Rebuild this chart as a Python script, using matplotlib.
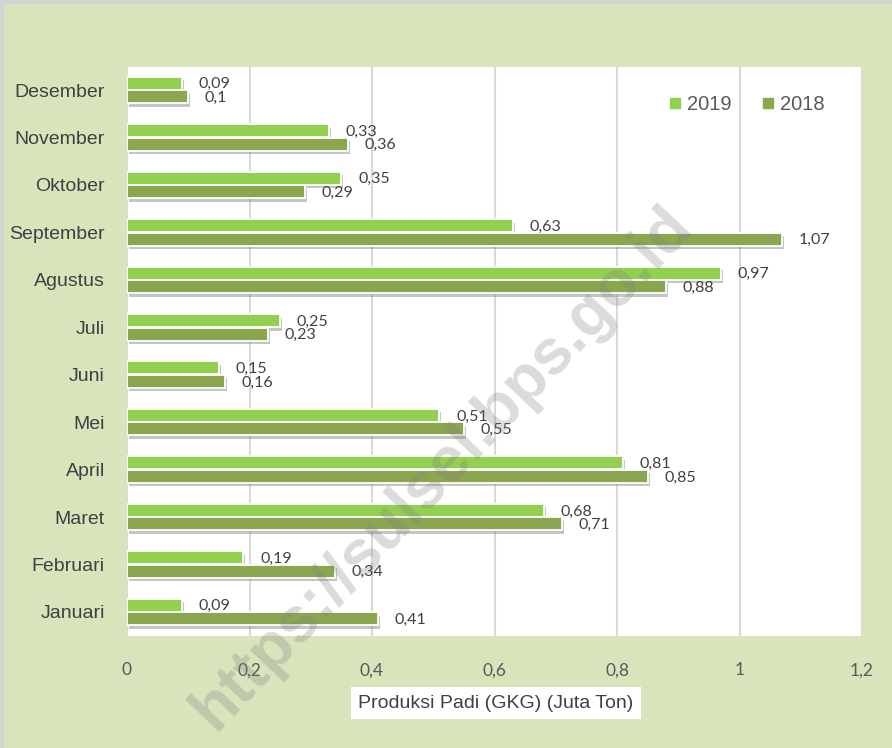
import matplotlib.pyplot as plt
import matplotlib.patheffects as pe
from matplotlib import font_manager
from matplotlib.lines import Line2D
from matplotlib.patches import Rectangle
import numpy as np

# Produksi padi per bulan (juta ton GKG)
months = ["Januari", "Februari", "Maret", "April", "Mei", "Juni",
          "Juli", "Agustus", "September", "Oktober", "November", "Desember"]
prod_2019 = [0.09, 0.19, 0.68, 0.81, 0.51, 0.15, 0.25, 0.97, 0.63, 0.35, 0.33, 0.09]
prod_2018 = [0.41, 0.34, 0.71, 0.85, 0.55, 0.16, 0.23, 0.88, 1.07, 0.29, 0.36, 0.10]
x_ticks = [0, 0.2, 0.4, 0.6, 0.8, 1.0, 1.2]
x_tick_labels = ["0", "0,2", "0,4", "0,6", "0,8", "1", "1,2"]

COL_2019 = "#92d050"
COL_2018 = "#8aa64f"
BG = "#d8e4bc"

installed = {f.name for f in font_manager.fontManager.ttflist}
NARROW = "Liberation Sans Narrow" if "Liberation Sans Narrow" in installed else "Liberation Sans"
NUM_FONT = "Lato" if "Lato" in installed else "DejaVu Sans"

W, H = 892, 748
fig = plt.figure(figsize=(W / 100, H / 100), dpi=100, facecolor=BG)
ax = fig.add_axes([127 / W, 1 - 636 / H, (862 - 127) / W, (636 - 67) / H])
ax.set_facecolor("white")

y = np.arange(len(months))
bh = 0.274
shadow = [pe.SimplePatchShadow(offset=(1.5, -2.5), shadow_rgbFace="#7f7f7f", alpha=0.45),
          pe.Normal()]

bars19 = ax.barh(y + 0.142, prod_2019, height=bh, color=COL_2019,
                 edgecolor="white", linewidth=1.3, zorder=3)
bars18 = ax.barh(y - 0.142, prod_2018, height=bh, color=COL_2018,
                 edgecolor="white", linewidth=1.3, zorder=3)
for b in list(bars19) + list(bars18):
    b.set_path_effects(shadow)

def fmt(v):
    return f"{v:g}".replace(".", ",")

for bars, vals in ((bars19, prod_2019), (bars18, prod_2018)):
    for b, v in zip(bars, vals):
        ax.annotate(fmt(v), xy=(v, b.get_y() + b.get_height() / 2),
                    xytext=(12, -0.8), textcoords="offset points",
                    va="center", ha="left", fontsize=11.5,
                    family=NUM_FONT, color="#404040", zorder=5)

ax.set_xlim(0, 1.2)
ax.set_ylim(-0.506, 11.485)
ax.set_xticks(x_ticks)
ax.set_xticklabels(x_tick_labels, family=NUM_FONT, fontsize=12.5, color="#595959")
ax.set_yticks(y)
ax.set_yticklabels(months, family=NARROW, fontsize=14, color="#404040")
ax.tick_params(axis="x", length=0, pad=19)
ax.tick_params(axis="y", length=0, pad=16)
ax.grid(axis="x", color="#d9d9d9", linewidth=1.5, zorder=0)
ax.set_axisbelow(True)
for s in ax.spines.values():
    s.set_visible(False)

# legenda
handles = [Line2D([], [], marker="s", linestyle="none", markersize=7.5,
                  color=c, label=l) for c, l in ((COL_2019, "2019"), (COL_2018, "2018"))]
leg = ax.legend(handles=handles, loc="center left", bbox_to_anchor=(657 / W, 1 - 105 / H),
                bbox_transform=fig.transFigure, ncol=2, frameon=False, borderpad=0,
                handletextpad=0.2, columnspacing=1.4, handlelength=0.8,
                prop={"family": NARROW, "size": 14.5})
for t in leg.get_texts():
    t.set_color("#595959")

# judul sumbu dalam kotak putih
fig.text(496 / W, 1 - 703 / H, "Produksi Padi (GKG) (Juta Ton)", ha="center", va="center",
         family=NARROW, fontsize=14, color="#404040",
         bbox=dict(boxstyle="square,pad=0.4", facecolor="white", edgecolor="none"))

# garis tepi abu-abu
fig.add_artist(Rectangle((0, 0), 4 / W, 1, transform=fig.transFigure,
                         facecolor="#d4d4d4", edgecolor="none"))
fig.add_artist(Rectangle((0, 1 - 4 / H), 1, 4 / H, transform=fig.transFigure,
                         facecolor="#d4d4d4", edgecolor="none"))

# watermark
fig.text(442 / W, 1 - 468 / H, "https://sulsel.bps.go.id", rotation=46.5,
         ha="center", va="center", fontsize=46, fontweight="bold",
         family="Liberation Sans", color="#7f7f7f", alpha=0.28, zorder=10)

fig.savefig("out.png", dpi=100, facecolor=BG)
